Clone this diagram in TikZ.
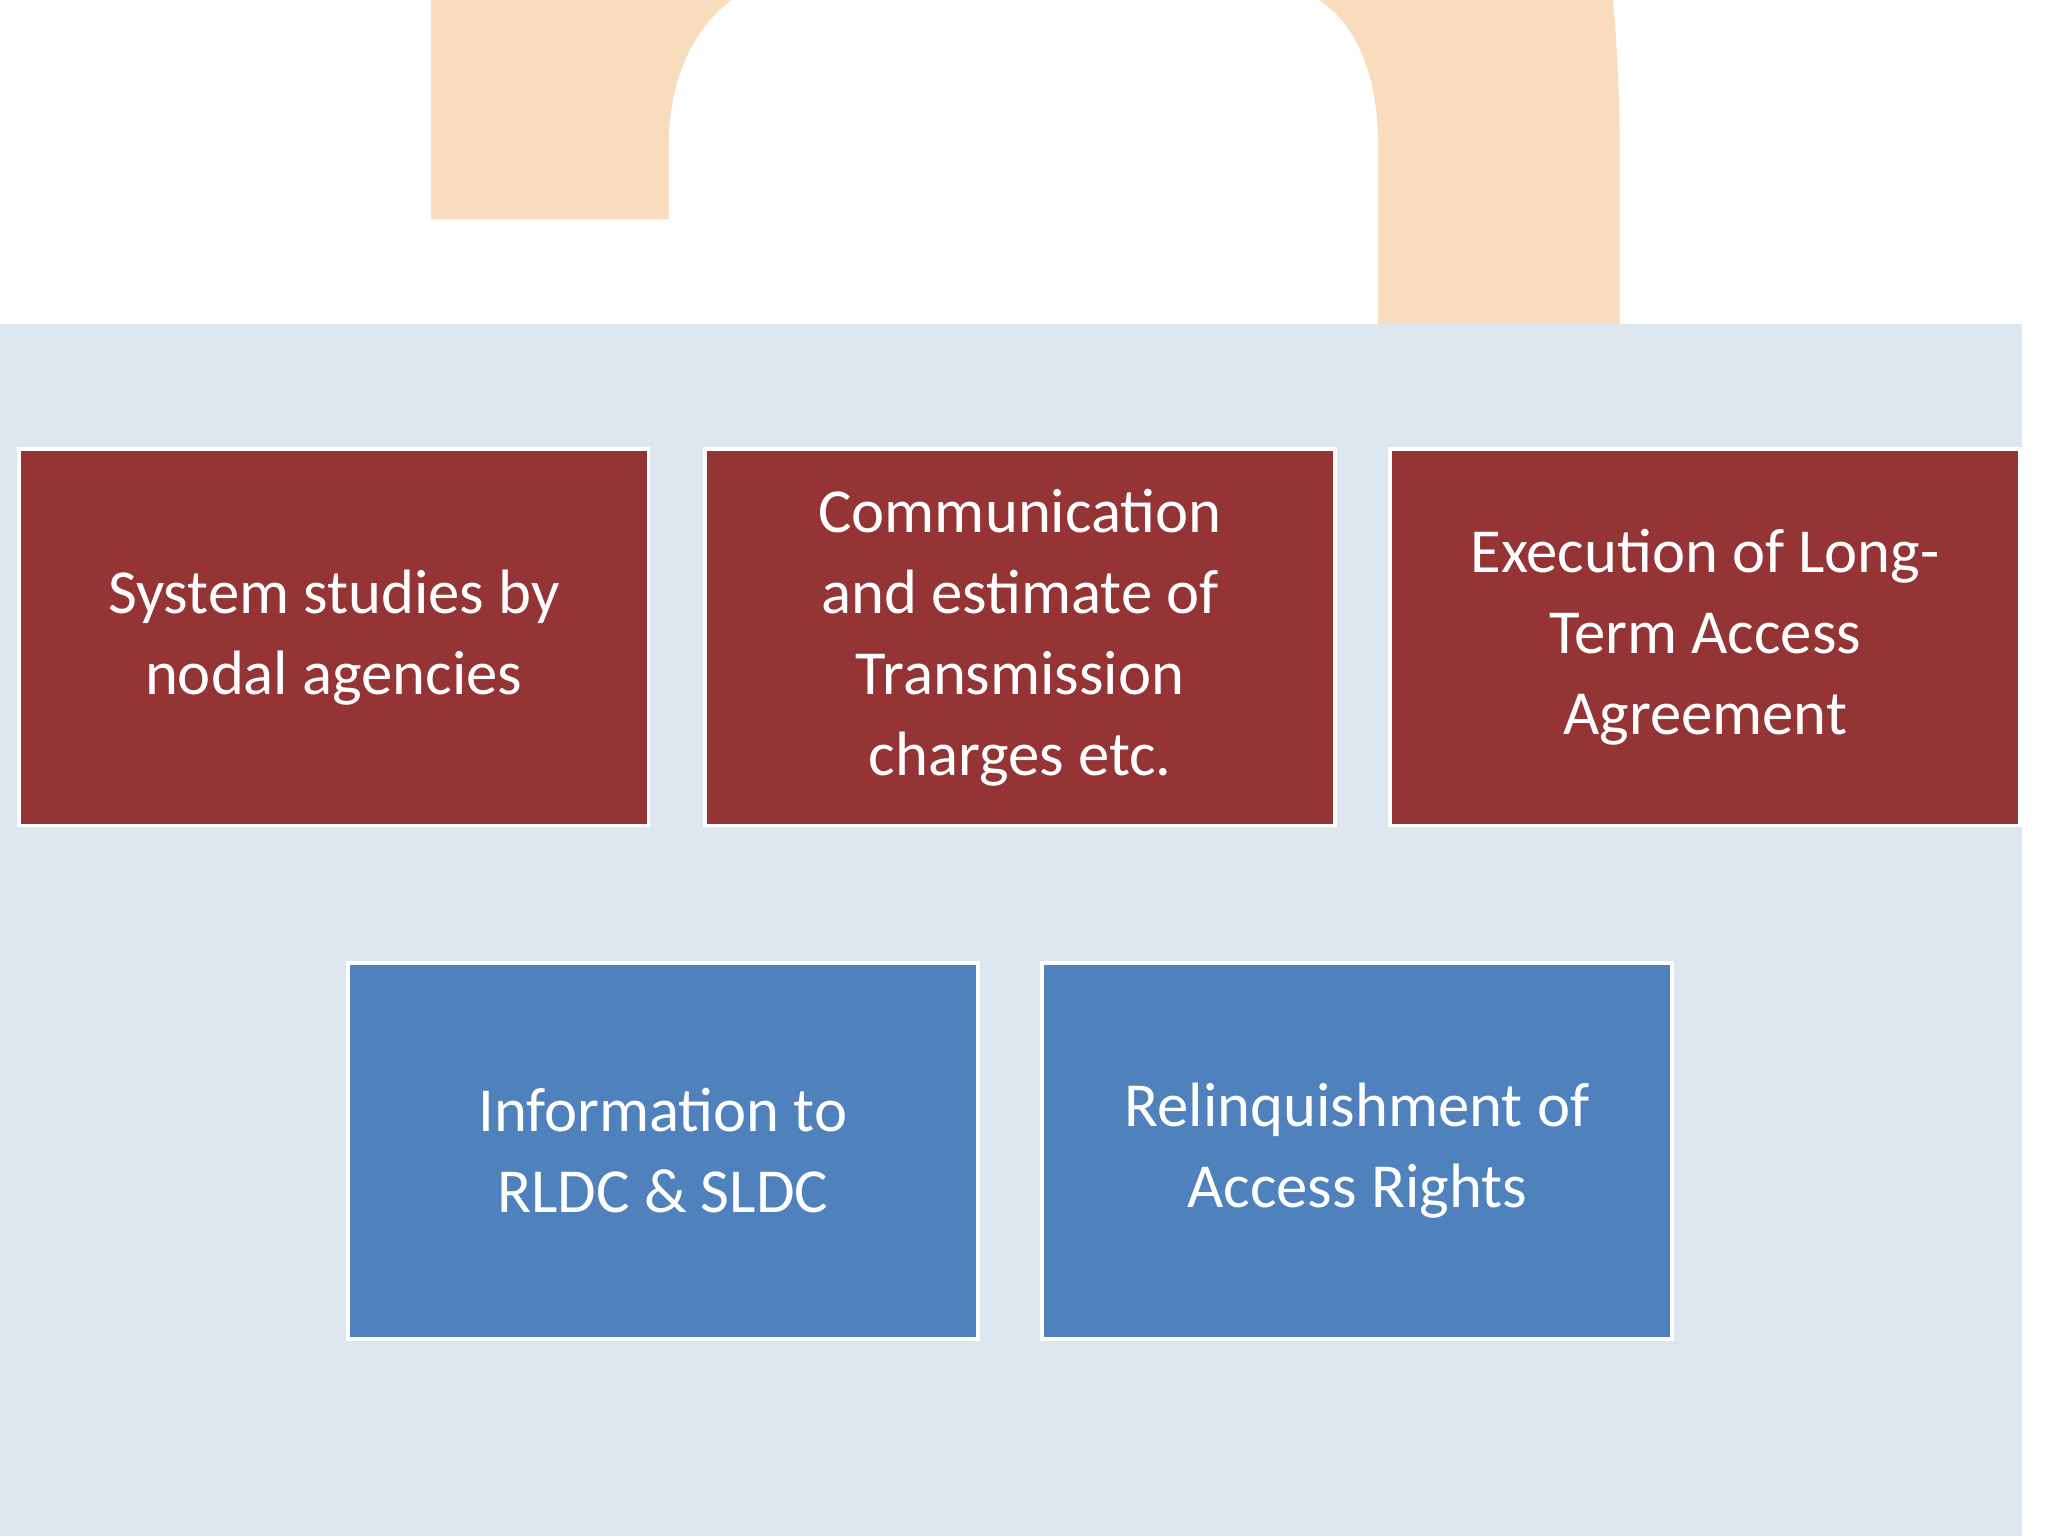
\documentclass[tikz,border=0pt]{standalone}
\usepackage{fontspec}
\setmainfont{Carlito}
\definecolor{peach}{RGB}{249,220,190}
\definecolor{bgblue}{RGB}{222,230,240}
\definecolor{boxred}{RGB}{148,52,52}
\definecolor{boxblue}{RGB}{79,129,189}
\begin{document}
\begin{tikzpicture}[x=1pt,y=-1pt,
  box/.style={draw=white,line width=3pt,text=white,align=center,minimum width=482pt,minimum height=288pt,inner sep=0pt,font=\fontsize{48}{62}\selectfont},
  redbox/.style={box,fill=boxred},
  bluebox/.style={box,fill=boxblue}]
\useasboundingbox (0,0) rectangle (1568,1176);
\fill[white] (0,0) rectangle (1568,1176);
\fill[peach] (330,168) -- (330,0) -- (560,0) .. controls (520,30) and (512,80) .. (512,110) -- (512,168) -- cycle;
\fill[peach] (1055,248) -- (1055,110) .. controls (1055,60) and (1040,20) .. (1010,0) -- (1235,0) .. controls (1240,60) and (1240,100) .. (1240,110) -- (1240,248) -- cycle;
\fill[bgblue] (0,248) rectangle (1548,1176);
\node[redbox] (a) at (255.5,488) {System studies by\\nodal agencies};
\node[redbox] (b) at (781,488) {Communication\\and estimate of\\Transmission\\charges etc.};
\node[redbox] (c) at (1305.5,488) {Execution of Long-\\Term Access\\Agreement};
\node[bluebox] (d) at (507.5,881) {Information to\\RLDC \& SLDC};
\node[bluebox] (e) at (1039,881) {Relinquishment of\\Access Rights};
\end{tikzpicture}
\end{document}
